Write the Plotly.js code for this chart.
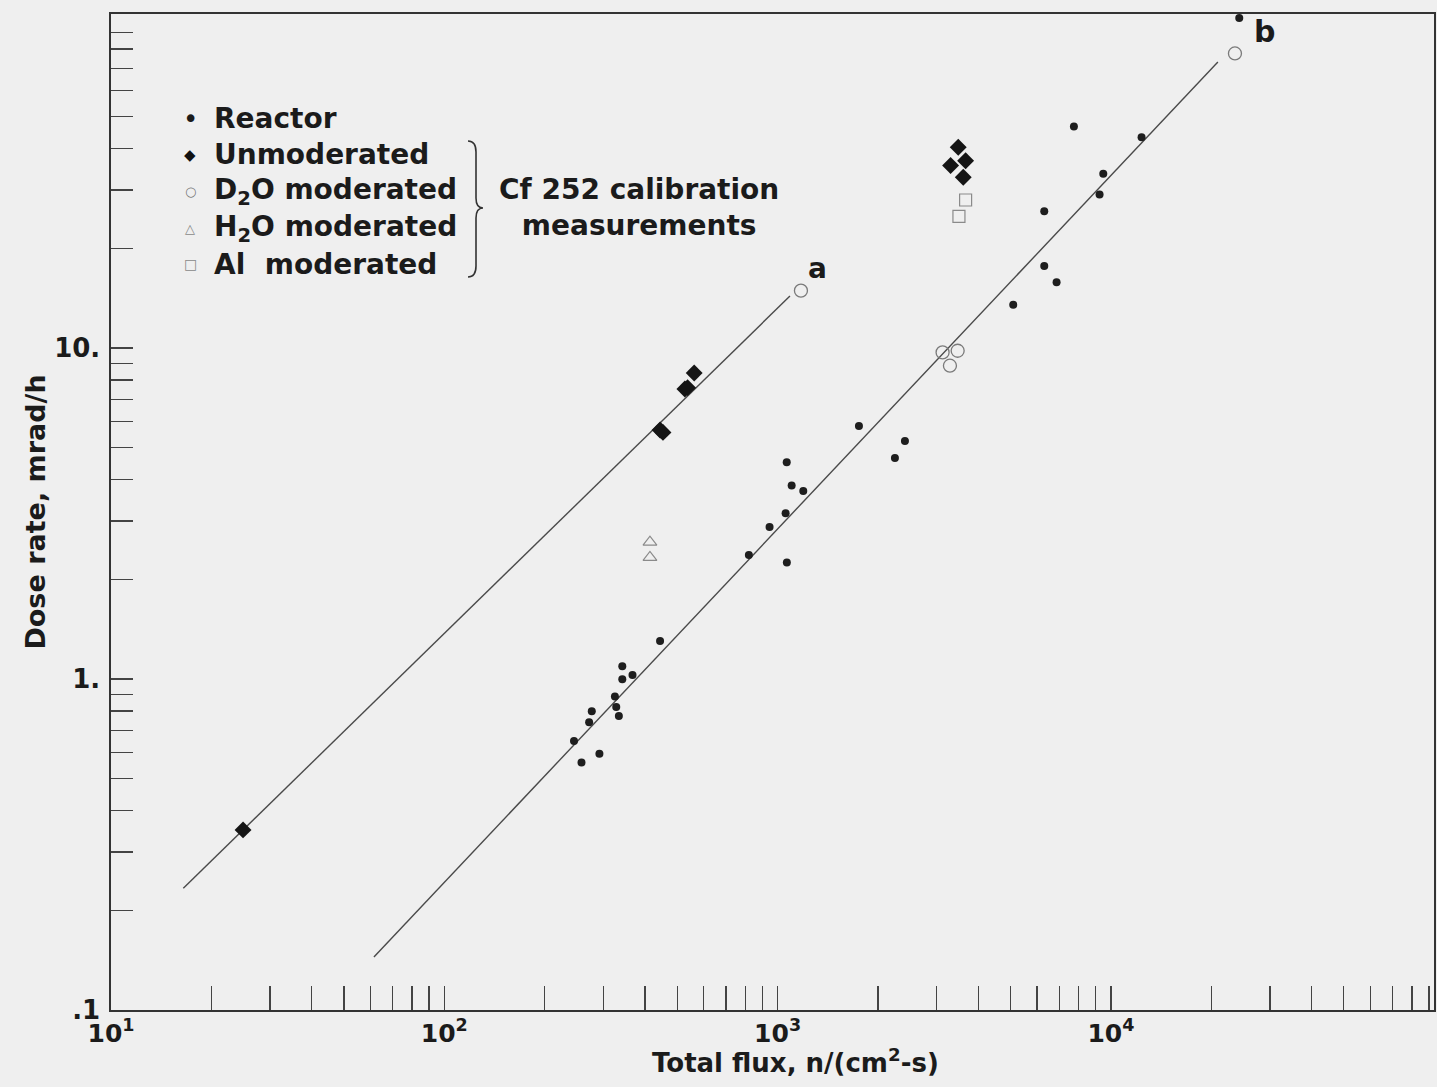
<!DOCTYPE html>
<html>
<head>
<meta charset="utf-8">
<script src="https://cdn.plot.ly/plotly-3.0.1.min.js"></script>
<style>
  html, body { margin: 0; padding: 0; background: #efefef; }
  #chart { width: 1437px; height: 1087px; }
</style>
</head>
<body>
<div id="chart"></div>
<script>
// ---- data ----
const reactorFlux = [245, 258, 272, 277, 292, 325, 328, 334, 342, 342, 367, 444,
                     820, 946, 1057, 1065, 1066, 1102, 1194, 1754, 2249, 2410,
                     5093, 6310, 6310, 6871, 7745, 9247, 9487, 12360, 24270];
const reactorDose = [0.650, 0.559, 0.740, 0.799, 0.595, 0.886, 0.823, 0.773, 1.093, 0.998, 1.028, 1.302,
                     2.37, 2.88, 3.17, 4.52, 2.25, 3.84, 3.70, 5.81, 4.65, 5.24,
                     13.5, 25.9, 17.7, 15.8, 46.7, 29.1, 33.6, 43.3, 99.3];

const unmodFlux = [24.9, 444, 453, 527, 537, 562, 3304, 3483, 3606, 3665];
const unmodDose = [0.350, 5.65, 5.56, 7.52, 7.59, 8.40, 35.6, 40.4, 32.8, 36.8];

const d2oFlux = [1175, 3126, 3289, 3469, 23560];
const d2oDose = [14.9, 9.70, 8.84, 9.81, 77.6];

const h2oFlux = [414, 414];
const h2oDose = [2.59, 2.33];

const alFlux = [3500, 3665];
const alDose = [25.0, 28.0];

const lineAFlux = [16.48, 1089];
const lineADose = [0.2333, 14.35];
const lineBFlux = [61.5, 20940];
const lineBDose = [0.1445, 73.1];

const xMajorVals = [10, 100, 1000, 10000];
const xMajorLabels = ['10<sup>1</sup>', '10<sup>2</sup>', '10<sup>3</sup>', '10<sup>4</sup>'];
const yMajorVals = [0.1, 1, 10];
const yMajorLabels = ['.1', '1.', '10.'];

const legendLabels = ['Reactor', 'Unmoderated', 'D<sub>2</sub>O moderated', 'H<sub>2</sub>O moderated', 'Al  moderated'];
const legendGlyphs = ['\u2022', '\u25C6', '\u25CB', '\u25B3', '\u25A1'];
const groupLabel = 'Cf 252 calibration<br>measurements';

// ---- layout geometry ----
const W = 1437, H = 1087, ML = 111, MR = 3, MT = 14, MB = 77;
const PW = W - ML - MR, PH = H - MT - MB;
const px = x => (x - ML) / PW;
const py = y => (H - MB - y) / PH;

const FONT = '"DejaVu Sans", "Liberation Sans", sans-serif';
const INK = '#1b1b1b';

// minor ticks: digits 2..9 of each decade
function minorTicks(majors) {
  const vals = [];
  majors.forEach(d => { for (let k = 2; k <= 9; k++) vals.push(k * d); });
  return vals;
}
const xMinor = minorTicks(xMajorVals);
const yMinor = minorTicks(yMajorVals);

const traces = [
  {x: lineAFlux, y: lineADose, mode: 'lines', line: {color: '#4a4a4a', width: 1.4}, name: 'a'},
  {x: lineBFlux, y: lineBDose, mode: 'lines', line: {color: '#4a4a4a', width: 1.4}, name: 'b'},
  {x: reactorFlux, y: reactorDose, mode: 'markers', name: 'Reactor',
   marker: {symbol: 'circle', size: 8, color: '#1e1e1e'}},
  {x: unmodFlux, y: unmodDose, mode: 'markers', name: 'Unmoderated',
   marker: {symbol: 'diamond', size: 13, color: '#151515'}},
  {x: d2oFlux, y: d2oDose, mode: 'markers', name: 'D2O moderated',
   marker: {symbol: 'circle-open', size: 13, color: '#7a7a7a', line: {width: 1.3}}},
  {x: h2oFlux, y: h2oDose, mode: 'markers', name: 'H2O moderated',
   marker: {symbol: 'triangle-up-open', size: 12, color: '#8a8a8a', line: {width: 1.2}}},
  {x: alFlux, y: alDose, mode: 'markers', name: 'Al moderated',
   marker: {symbol: 'square-open', size: 12, color: '#8a8a8a', line: {width: 1.2}}}
];
traces.forEach(t => { t.cliponaxis = false; t.hoverinfo = 'skip'; });

// legend (drawn as text)
const rowsY = [119, 155, 191, 228, 264];
const glyphSize = [26, 15, 13, 13, 14];
const glyphColor = [INK, '#111', '#777', '#888', '#888'];
const annotations = [];
legendLabels.forEach((lab, i) => {
  annotations.push({xref: 'paper', yref: 'paper', x: px(190), y: py(rowsY[i]),
    text: legendGlyphs[i], showarrow: false, xanchor: 'center', yanchor: 'middle',
    font: {family: FONT, size: glyphSize[i], color: glyphColor[i]}});
  annotations.push({xref: 'paper', yref: 'paper', x: px(212), y: py(rowsY[i]),
    text: lab, showarrow: false, xanchor: 'left', yanchor: 'middle',
    font: {family: FONT, size: 28, color: INK, weight: 700}});
});
annotations.push({xref: 'paper', yref: 'paper', x: px(639), y: py(208),
  text: groupLabel, showarrow: false, xanchor: 'center', yanchor: 'middle', align: 'center',
  font: {family: FONT, size: 28, color: INK, weight: 700}});
// line labels
annotations.push({xref: 'x', yref: 'y', x: Math.log10(lineAFlux[1]), y: Math.log10(lineADose[1]),
  text: 'a', showarrow: false, xshift: 28, yshift: 28, xanchor: 'center', yanchor: 'middle',
  font: {family: FONT, size: 28, color: INK, weight: 700}});
annotations.push({xref: 'x', yref: 'y', x: Math.log10(lineBFlux[1]), y: Math.log10(lineBDose[1]),
  text: 'b', showarrow: false, xshift: 47, yshift: 31, xanchor: 'center', yanchor: 'middle',
  font: {family: FONT, size: 30, color: INK, weight: 700}});
// x axis title
annotations.push({xref: 'paper', yref: 'paper', x: px(795), y: py(1061),
  text: 'Total flux, n/(cm<sup>2</sup>-s)', showarrow: false, xanchor: 'center', yanchor: 'middle',
  font: {family: FONT, size: 26, color: INK, weight: 700}});

// brace
const P = (x, y) => px(x).toFixed(5) + ',' + py(y).toFixed(5);
const bracePath = 'M' + P(468, 141) + ' Q' + P(476, 141) + ' ' + P(476, 152) +
  ' L' + P(476, 198) + ' Q' + P(476, 208) + ' ' + P(483, 208) +
  ' Q' + P(476, 208) + ' ' + P(476, 218) + ' L' + P(476, 266) +
  ' Q' + P(476, 277) + ' ' + P(468, 277);

const layout = {
  width: W, height: H,
  margin: {l: ML, r: MR, t: MT, b: MB, pad: 0},
  paper_bgcolor: '#efefef', plot_bgcolor: '#efefef',
  showlegend: false,
  hovermode: false,
  font: {family: FONT, color: INK},
  xaxis: {
    type: 'log', range: [1, 1 + PW / 333.3], autorange: false,
    tickmode: 'array', tickvals: xMajorVals, ticktext: xMajorLabels,
    ticks: 'inside', ticklen: 24, tickwidth: 1.2, tickcolor: '#444',
    minor: {tickmode: 'array', tickvals: xMinor, ticks: 'inside', ticklen: 24, tickwidth: 1.2, tickcolor: '#444', showgrid: false},
    showline: true, linecolor: '#333', linewidth: 1.6, mirror: true,
    showgrid: false, zeroline: false,
    tickfont: {family: FONT, size: 25, color: INK, weight: 700},
    ticklabelstandoff: 0
  },
  yaxis: {
    type: 'log', range: [-1, -1 + PH / 331], autorange: false,
    tickmode: 'array', tickvals: yMajorVals, ticktext: yMajorLabels,
    ticks: 'inside', ticklen: 22, tickwidth: 1.2, tickcolor: '#444',
    minor: {tickmode: 'array', tickvals: yMinor, ticks: 'inside', ticklen: 22, tickwidth: 1.2, tickcolor: '#444', showgrid: false},
    showline: true, linecolor: '#333', linewidth: 1.6, mirror: true,
    showgrid: false, zeroline: false,
    tickfont: {family: FONT, size: 26, color: INK, weight: 700},
    ticklabelstandoff: 4,
    title: {text: 'Dose rate, mrad/h', standoff: 0,
            font: {family: FONT, size: 27, color: INK, weight: 700}}
  },
  annotations: annotations,
  shapes: [{type: 'path', xref: 'paper', yref: 'paper', path: bracePath,
            line: {color: '#333', width: 1.6}}]
};

Plotly.newPlot('chart', traces, layout, {displayModeBar: false, staticPlot: true});
</script>
</body>
</html>
